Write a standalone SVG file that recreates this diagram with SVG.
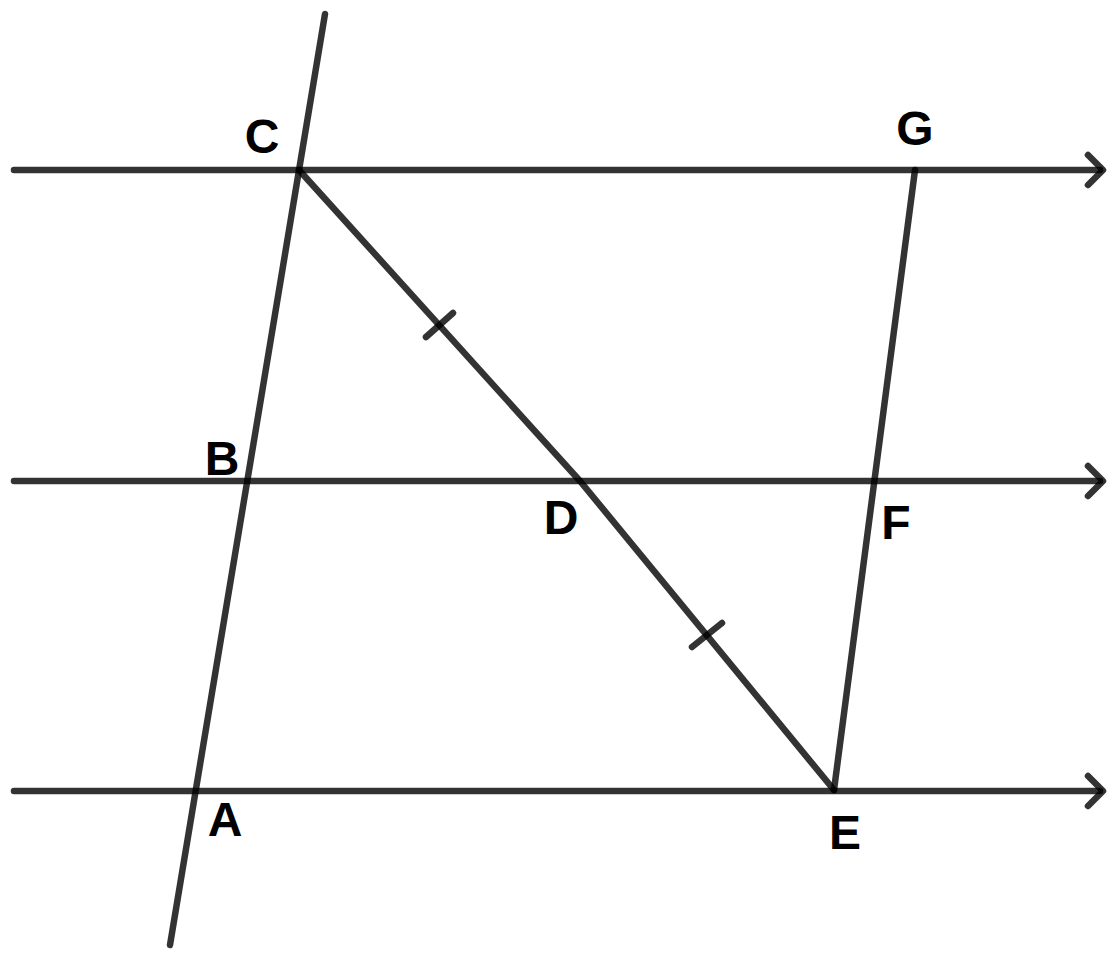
<svg xmlns="http://www.w3.org/2000/svg" width="1118" height="961" viewBox="0 0 1118 961">
<style>
.ln{stroke:#000;stroke-opacity:0.8;stroke-width:6.5;stroke-linecap:round;stroke-linejoin:round;fill:none}
.lb{font-family:"Liberation Sans",Arial,sans-serif;font-weight:bold;font-size:48px;fill:#000;text-anchor:middle}
</style>
<rect width="1118" height="961" fill="#fff"/>
<g id="connectors">
<line class="ln" x1="14" y1="170" x2="1100" y2="170"/>
<path class="ln" d="M1088,155 L1103,170 L1088,185"/>
<line class="ln" x1="14" y1="481" x2="1100" y2="481"/>
<path class="ln" d="M1088,466 L1103,481 L1088,496"/>
<line class="ln" x1="14" y1="791" x2="1100" y2="791"/>
<path class="ln" d="M1088,776 L1103,791 L1088,806"/>
<line class="ln" x1="325" y1="14" x2="170" y2="945"/>
<path class="ln" d="M299,170 L580,481 L834,790"/>
<line class="ln" x1="915" y1="170" x2="834" y2="790"/>
<line class="ln" x1="426" y1="337" x2="453" y2="313"/>
<line class="ln" x1="692" y1="647" x2="722" y2="623"/>
</g>
<g id="C"><text class="lb" x="262" y="153">C</text></g>
<g id="G"><text class="lb" x="915" y="145">G</text></g>
<g id="B"><text class="lb" x="222" y="475">B</text></g>
<g id="D"><text class="lb" x="561" y="534">D</text></g>
<g id="F"><text class="lb" x="896" y="539">F</text></g>
<g id="A"><text class="lb" x="225" y="836">A</text></g>
<g id="E"><text class="lb" x="845" y="849">E</text></g>
</svg>
